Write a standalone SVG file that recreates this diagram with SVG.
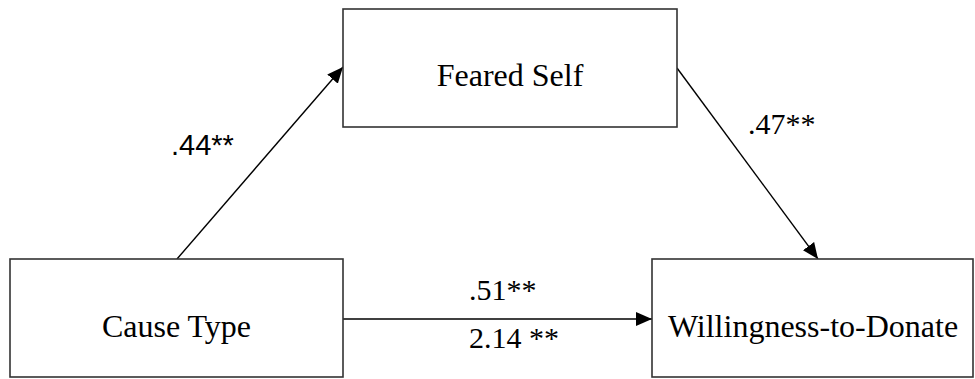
<svg xmlns="http://www.w3.org/2000/svg" width="975" height="379" viewBox="0 0 975 379">
  <style>
    .box { fill: #ffffff; stroke: #333333; stroke-width: 1.6; }
    .label { font-family: "Liberation Serif", "Times New Roman", serif; font-size: 32px; fill: #000000; }
    .coef { font-family: "Liberation Serif", "Times New Roman", serif; font-size: 30px; fill: #000000; }
    .coef-sans { font-family: "Liberation Sans", Arial, sans-serif; font-size: 29px; fill: #000000; }
    .edge { fill: none; stroke: #000000; stroke-width: 1.4; }
  </style>
  <defs>
    <!-- filled triangular arrowhead, tip at the path end -->
    <marker id="arrow" markerUnits="userSpaceOnUse" markerWidth="16" markerHeight="14" refX="16" refY="7" orient="auto">
      <path d="M0,0 L16,7 L0,14 z" fill="#000000"/>
    </marker>
  </defs>
  <rect width="975" height="379" fill="#ffffff"/>

  <g id="connectors">
    <!-- Cause Type -> Feared Self -->
    <line class="edge" x1="177" y1="259" x2="343" y2="67" marker-end="url(#arrow)"/>
    <!-- Feared Self -> Willingness-to-Donate -->
    <line class="edge" x1="677" y1="68" x2="818" y2="259" marker-end="url(#arrow)"/>
    <!-- Cause Type -> Willingness-to-Donate (direct path) -->
    <line class="edge" x1="343" y1="319" x2="652" y2="319" marker-end="url(#arrow)"/>
    <text class="coef-sans" x="171" y="155">.44**</text>
    <text class="coef" x="748" y="134">.47**</text>
    <text class="coef" x="469" y="300">.51**</text>
    <text class="coef" x="469" y="348">2.14 **</text>
  </g>

  <g id="feared-self">
    <rect class="box" x="343" y="9" width="334" height="118"/>
    <text class="label" x="510" y="86" text-anchor="middle">Feared Self</text>
  </g>

  <g id="cause-type">
    <rect class="box" x="10" y="259" width="333" height="118"/>
    <text class="label" x="176.5" y="337" text-anchor="middle">Cause Type</text>
  </g>

  <g id="willingness-to-donate">
    <rect class="box" x="652" y="259" width="321" height="118"/>
    <text class="label" x="813" y="337" text-anchor="middle">Willingness-to-Donate</text>
  </g>
</svg>
